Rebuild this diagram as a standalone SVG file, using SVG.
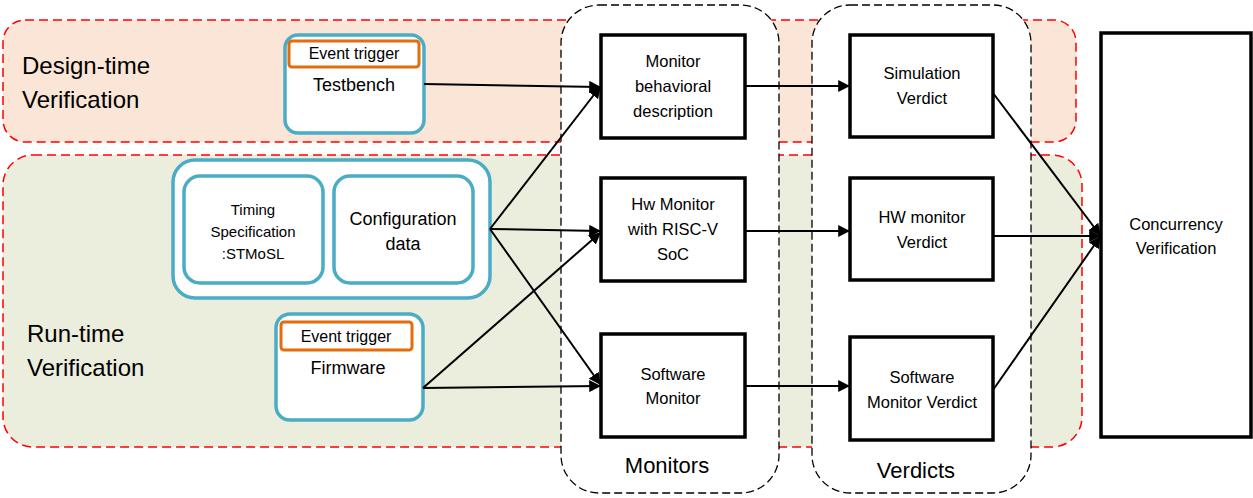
<svg xmlns="http://www.w3.org/2000/svg" width="1253" height="498" viewBox="0 0 1253 498">
  <style>
    text { font-family: "Liberation Sans", Arial, sans-serif; fill: #000; text-anchor: middle; }
    .band { stroke: #ff0000; stroke-width: 1.5; stroke-dasharray: 9 5; }
    .col { fill: #ffffff; stroke: #000; stroke-width: 1.3; stroke-dasharray: 8 4; }
    .blk { fill: #ffffff; stroke: #000; stroke-width: 3.5; }
    .blue { fill: #ffffff; stroke: #4bacc6; stroke-width: 3.5; }
    .trig { fill: #ffffff; stroke: #e46c0a; stroke-width: 3; }
    .lbl { font-size: 16.5px; }
    .big { font-size: 24px; text-anchor: start; }
    .conn { fill: none; stroke: #000; stroke-width: 2; marker-end: url(#arr); }
  </style>
  <defs>
    <marker id="arr" viewBox="0 0 10 10" refX="9" refY="5" markerWidth="6" markerHeight="6" orient="auto" markerUnits="strokeWidth">
      <path d="M0,0 L10,5 L0,10 z" fill="#000"/>
    </marker>
  </defs>

  <!-- verification bands -->
  <g id="design-time">
    <rect class="band" x="3" y="20" width="1073" height="122" rx="22" fill="#fbe5d6"/>
    <text class="big" x="22" y="74">Design-time</text>
    <text class="big" x="22" y="108">Verification</text>
  </g>
  <g id="run-time">
    <rect class="band" x="3" y="155" width="1079" height="292" rx="30" fill="#ebeddd"/>
    <text class="big" x="27" y="342">Run-time</text>
    <text class="big" x="27" y="376">Verification</text>
  </g>

  <!-- dashed columns -->
  <g id="monitors">
    <rect class="col" x="561" y="5" width="218" height="488" rx="38"/>
    <text x="667" y="473" font-size="22">Monitors</text>
  </g>
  <g id="verdicts">
    <rect class="col" x="812" y="5" width="219" height="488" rx="38"/>
    <text x="916" y="478" font-size="22">Verdicts</text>
  </g>

  <!-- inputs -->
  <g id="testbench">
    <rect class="blue" x="285" y="35" width="139" height="98" rx="13"/>
    <rect class="trig" x="289" y="41" width="130" height="26" rx="3"/>
    <text x="354" y="59" font-size="16">Event trigger</text>
    <text x="354" y="91" font-size="18">Testbench</text>
  </g>
  <g id="spec-group">
    <rect class="blue" x="173" y="160" width="317" height="138" rx="22"/>
    <g id="timing-spec">
      <rect class="blue" x="184" y="176" width="139" height="107" rx="16"/>
      <text x="253" y="215" font-size="15">Timing</text>
      <text x="253" y="237" font-size="15">Specification</text>
      <text x="253" y="259" font-size="15">:STMoSL</text>
    </g>
    <g id="config-data">
      <rect class="blue" x="334" y="176" width="139" height="107" rx="16"/>
      <text x="403" y="225" font-size="18">Configuration</text>
      <text x="403" y="250" font-size="18">data</text>
    </g>
  </g>
  <g id="firmware">
    <rect class="blue" x="276" y="314" width="147" height="106" rx="14"/>
    <rect class="trig" x="281" y="322" width="131" height="28" rx="3"/>
    <text x="346" y="342" font-size="16">Event trigger</text>
    <text x="348" y="374" font-size="18">Firmware</text>
  </g>

  <!-- monitor blocks -->
  <g id="monitor-behavioral">
    <rect class="blk" x="601" y="35" width="144" height="103"/>
    <text class="lbl" x="673" y="67">Monitor</text>
    <text class="lbl" x="673" y="92">behavioral</text>
    <text class="lbl" x="673" y="117">description</text>
  </g>
  <g id="hw-monitor">
    <rect class="blk" x="601" y="178" width="144" height="103"/>
    <text class="lbl" x="673" y="210">Hw Monitor</text>
    <text class="lbl" x="673" y="235">with RISC-V</text>
    <text class="lbl" x="673" y="260">SoC</text>
  </g>
  <g id="software-monitor">
    <rect class="blk" x="601" y="334" width="144" height="103"/>
    <text class="lbl" x="673" y="380">Software</text>
    <text class="lbl" x="673" y="404">Monitor</text>
  </g>

  <!-- verdict blocks -->
  <g id="simulation-verdict">
    <rect class="blk" x="850" y="35" width="143" height="102"/>
    <text class="lbl" x="922" y="79">Simulation</text>
    <text class="lbl" x="922" y="104">Verdict</text>
  </g>
  <g id="hw-verdict">
    <rect class="blk" x="850" y="178" width="143" height="102"/>
    <text class="lbl" x="922" y="223">HW monitor</text>
    <text class="lbl" x="922" y="248">Verdict</text>
  </g>
  <g id="sw-verdict">
    <rect class="blk" x="850" y="337" width="143" height="103"/>
    <text class="lbl" x="922" y="383">Software</text>
    <text class="lbl" x="922" y="408">Monitor Verdict</text>
  </g>

  <g id="concurrency">
    <rect class="blk" x="1101" y="33" width="150" height="404"/>
    <text class="lbl" x="1176" y="230">Concurrency</text>
    <text class="lbl" x="1176" y="254">Verification</text>
  </g>

  <!-- connectors -->
  <g id="connectors">
    <path class="conn" d="M424,84 L600,87"/>
    <path class="conn" d="M490,229 L600,87"/>
    <path class="conn" d="M490,229 L600,231"/>
    <path class="conn" d="M490,229 L600,384"/>
    <path class="conn" d="M423,388 L600,233"/>
    <path class="conn" d="M423,388 L600,386"/>
    <path class="conn" d="M745,86 L849,86"/>
    <path class="conn" d="M745,231 L849,231"/>
    <path class="conn" d="M745,386 L849,386"/>
    <path class="conn" d="M993,93 L1100,235"/>
    <path class="conn" d="M993,236 L1100,236"/>
    <path class="conn" d="M993,390 L1100,237"/>
  </g>
</svg>
